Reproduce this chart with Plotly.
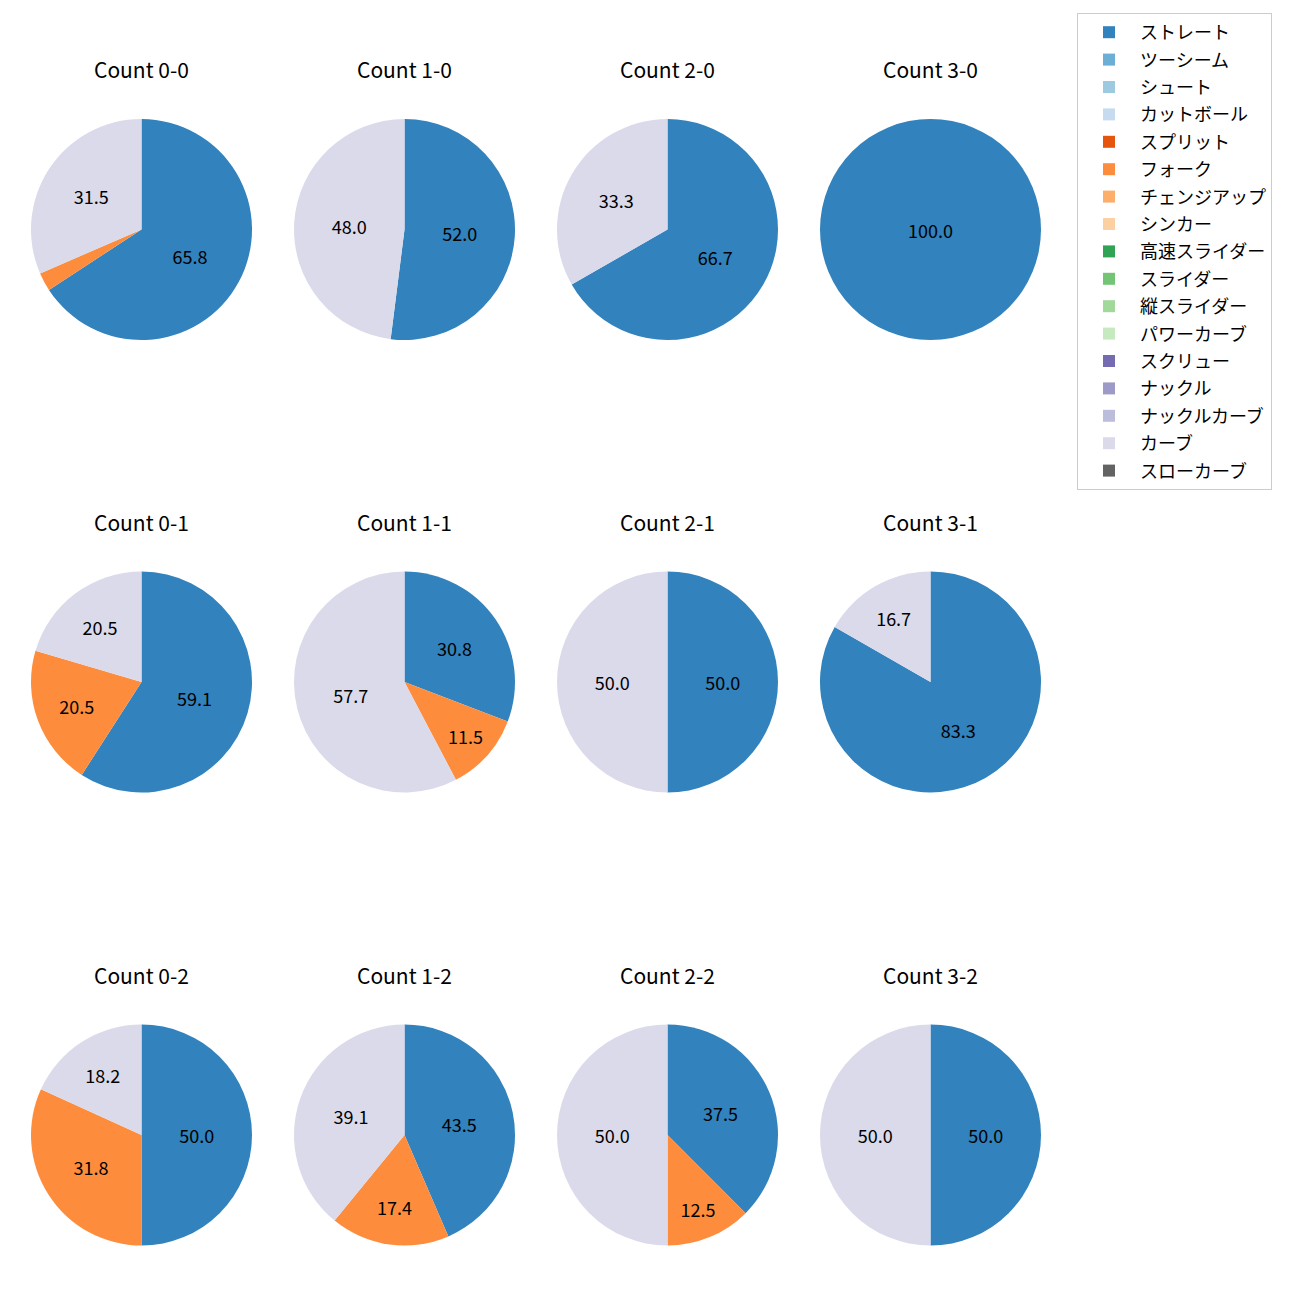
import plotly.graph_objects as go

# ---- data ----
counts = ["0-0", "1-0", "2-0", "3-0",
          "0-1", "1-1", "2-1", "3-1",
          "0-2", "1-2", "2-2", "3-2"]
pie_labels = ["ストレート", "フォーク", "カーブ"]
straight = [65.8, 52.0, 66.7, 100.0, 59.09, 30.8, 50.0, 83.3, 50.0, 43.5, 37.5, 50.0]
fork     = [2.7, 0.0, 0.0, 0.0, 20.45, 11.5, 0.0, 0.0, 31.8, 17.4, 12.5, 0.0]
curve    = [31.5, 48.0, 33.3, 0.0, 20.45, 57.7, 50.0, 16.7, 18.2, 39.1, 50.0, 50.0]

legend_labels = ["ストレート", "ツーシーム", "シュート", "カットボール", "スプリット",
                 "フォーク", "チェンジアップ", "シンカー", "高速スライダー", "スライダー",
                 "縦スライダー", "パワーカーブ", "スクリュー", "ナックル", "ナックルカーブ",
                 "カーブ", "スローカーブ"]
legend_colors = ["#3182bd", "#6baed6", "#9ecae1", "#c6dbef", "#e6550d",
                 "#fd8d3c", "#fdae6b", "#fdd0a2", "#31a354", "#74c476",
                 "#a1d99b", "#c7e9c0", "#756bb1", "#9e9ac8", "#bcbddc",
                 "#dadaeb", "#636363"]
color_map = dict(zip(legend_labels, legend_colors))

FONT = "Noto Sans CJK JP"
OFF = 8            # browser body margin
W = H = 1292
col_cx = [141.5 - OFF, 404.5 - OFF, 667.5 - OFF, 930.5 - OFF]
row_cy = [229.5 - OFF, 682.0 - OFF, 1135.0 - OFF]
R = 110.5


def dom(cx, cy, r):
    return dict(x=[(cx - r) / W, (cx + r) / W],
                y=[1 - (cy + r) / H, 1 - (cy - r) / H])


fig = go.Figure()

# legend entries (tiny pies hidden beneath the Count 3-0 pie)
for j, (lab, col) in enumerate(zip(legend_labels, legend_colors)):
    fig.add_trace(go.Pie(
        labels=[lab], values=[1], marker=dict(colors=[col]),
        textinfo="none", legendgroup=f"g{j}", showlegend=True,
        domain=dom(col_cx[3], row_cy[0] - 40, 1), hoverinfo="skip",
    ))

for i, c in enumerate(counts):
    r, k = divmod(i, 4)
    cx, cy = col_cx[k], row_cy[r]
    vals = [straight[i], fork[i], curve[i]]
    tot = sum(vals)
    txt = [f"{v / tot * 100:.1f}" if v / tot * 100 >= 5 else "" for v in vals]
    fig.add_trace(go.Pie(
        labels=pie_labels, values=vals, text=txt, textinfo="text",
        textposition="inside", insidetextorientation="horizontal",
        textfont=dict(family=FONT, size=18, color="black"),
        marker=dict(colors=[color_map[l] for l in pie_labels]),
        sort=False, direction="clockwise", rotation=0,
        showlegend=False, hoverinfo="label+percent",
        domain=dom(cx, cy, R),
    ))
    fig.add_annotation(text=f"Count {c}", x=cx / W, y=1 - (cy - 160.5) / H,
                       xref="paper", yref="paper", showarrow=False,
                       xanchor="center", yanchor="middle",
                       font=dict(family=FONT, size=21, color="black"))

fig.update_layout(
    width=W, height=H,
    margin=dict(l=0, r=0, t=0, b=0),
    paper_bgcolor="white", plot_bgcolor="white",
    font=dict(family=FONT),
    legend=dict(x=(1077 - OFF) / W, y=1 - (13 - OFF) / H,
                xanchor="left", yanchor="top",
                bordercolor="#cccccc", borderwidth=1,
                font=dict(family=FONT, size=18, color="black"),
                itemwidth=52,
                tracegroupgap=1, traceorder="grouped"),
)
fig.write_html("out.html")
